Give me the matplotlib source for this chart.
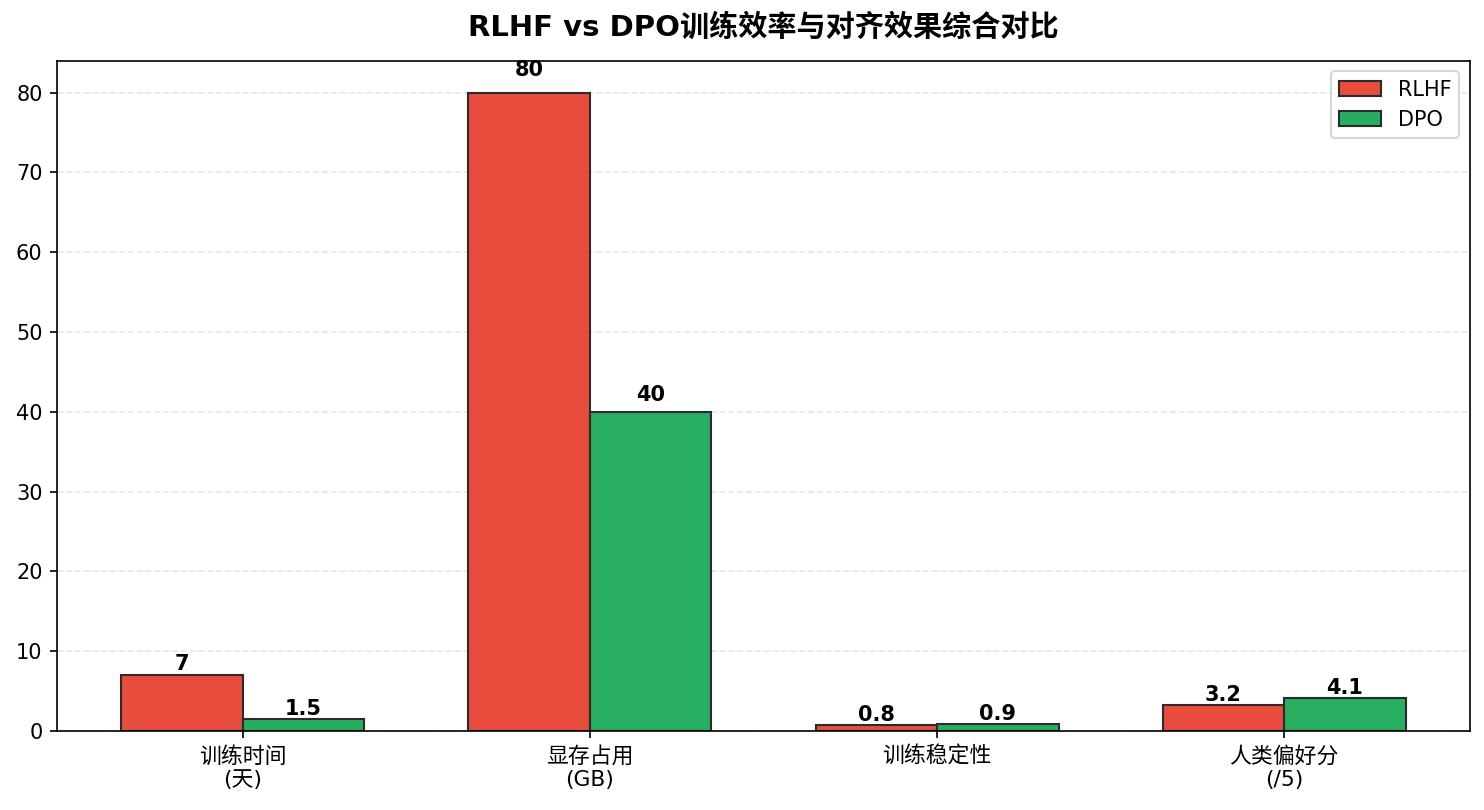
import matplotlib
matplotlib.use("Agg")
import matplotlib.pyplot as plt
import numpy as np

plt.rcParams['font.family'] = ['DejaVu Sans', 'Noto Sans CJK SC']

categories = ['训练时间\n(天)', '显存占用\n(GB)', '训练稳定性', '人类偏好分\n(/5)']
rlhf_values = [7, 80, 0.8, 3.2]
dpo_values = [1.5, 40, 0.9, 4.1]
series_names = ['RLHF', 'DPO']
title = 'RLHF vs DPO训练效率与对齐效果综合对比'

DPI = 150
fig, ax = plt.subplots(figsize=(1484 / DPI, 810 / DPI), dpi=DPI)
x = np.arange(len(categories))
w = 0.35
b1 = ax.bar(x - w/2, rlhf_values, w, label=series_names[0], color='#e74c3c',
            edgecolor='#2b2b2b', linewidth=1)
b2 = ax.bar(x + w/2, dpo_values, w, label=series_names[1], color='#27ae60',
            edgecolor='#2b2b2b', linewidth=1)

for bars in (b1, b2):
    for bar in bars:
        h = bar.get_height()
        ax.text(bar.get_x() + bar.get_width()/2, h * 1.02, f'{h:g}',
                ha='center', va='bottom', fontsize=10, fontweight='bold')

ax.set_xticks(x)
ax.set_xticklabels(categories, fontsize=10.5)
ax.tick_params(axis='y', labelsize=10)
ax.set_title(title, fontsize=14, fontweight='bold', pad=12)
ax.legend(fontsize=10)
ax.grid(axis='y', linestyle='--', alpha=0.3)
ax.set_axisbelow(True)

fig.subplots_adjust(left=0.0385, right=0.9905, top=0.925, bottom=0.0975)
fig.savefig('out.png', dpi=DPI)
